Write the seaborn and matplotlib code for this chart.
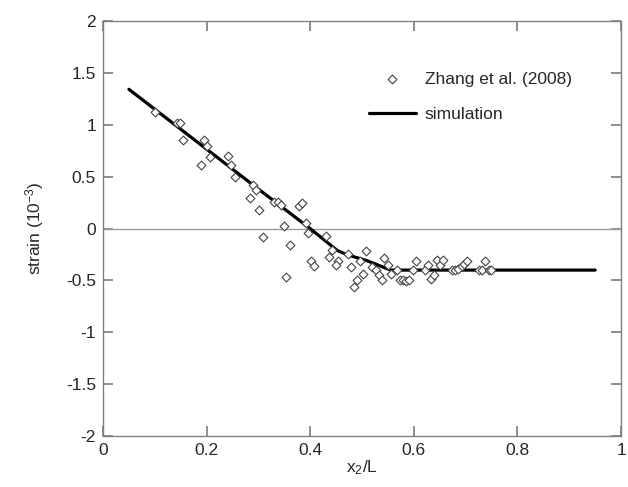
import numpy as np
import pandas as pd
import matplotlib
matplotlib.use("Agg")
import matplotlib.pyplot as plt
import seaborn as sns

# measured points (Zhang et al. 2008)
obs_x = [0.101, 0.142, 0.148, 0.154, 0.190, 0.195, 0.201, 0.207, 0.242, 0.248,
         0.255, 0.289, 0.296, 0.284, 0.301, 0.308, 0.331, 0.338, 0.344, 0.349,
         0.361, 0.354, 0.378, 0.385, 0.391, 0.396, 0.402, 0.408, 0.431, 0.442,
         0.436, 0.454, 0.449, 0.472, 0.478, 0.485, 0.491, 0.496, 0.502, 0.508,
         0.520, 0.526, 0.532, 0.538, 0.543, 0.550, 0.556, 0.567, 0.573, 0.579,
         0.584, 0.591, 0.598, 0.604, 0.621, 0.627, 0.633, 0.639, 0.645, 0.650,
         0.656, 0.673, 0.680, 0.686, 0.692, 0.697, 0.703, 0.726, 0.732, 0.738,
         0.745, 0.749]
obs_y = [1.129, 1.016, 1.016, 0.858, 0.619, 0.852, 0.797, 0.694, 0.700, 0.613,
         0.500, 0.423, 0.371, 0.294, 0.177, -0.084, 0.261, 0.261, 0.229, 0.029,
         -0.155, -0.471, 0.216, 0.248, 0.058, -0.042, -0.316, -0.365, -0.074, -0.210,
         -0.274, -0.316, -0.348, -0.242, -0.371, -0.565, -0.494, -0.316, -0.435, -0.219,
         -0.371, -0.403, -0.445, -0.494, -0.284, -0.348, -0.435, -0.403, -0.500, -0.500,
         -0.510, -0.500, -0.403, -0.316, -0.403, -0.355, -0.487, -0.445, -0.300, -0.355,
         -0.300, -0.403, -0.403, -0.390, -0.365, -0.339, -0.316, -0.403, -0.403, -0.316,
         -0.403, -0.403]

# simulation curve
sim_x = [0.05, 0.29, 0.40, 0.452, 0.47, 0.51, 0.555, 0.95]
sim_y = [1.345, 0.42, 0.0, -0.21, -0.25, -0.31, -0.40, -0.40]

sns.set_style("ticks")
plt.rcParams["font.family"] = ["Liberation Sans", "DejaVu Sans"]
plt.rcParams["mathtext.fontset"] = "custom"
plt.rcParams["mathtext.rm"] = "Liberation Sans"
plt.rcParams["mathtext.it"] = "Liberation Sans:italic"
plt.rcParams["xtick.direction"] = "in"
plt.rcParams["ytick.direction"] = "in"

fig = plt.figure(figsize=(6.28, 4.87), dpi=100)
ax = fig.add_axes([0.164, 0.105, 0.825, 0.851])

ax.axhline(0, color="#9a9a9a", lw=1.0, zorder=1)

obs = pd.DataFrame({"x": obs_x, "y": obs_y})
sim = pd.DataFrame({"x": sim_x, "y": sim_y})

sns.scatterplot(data=obs, x="x", y="y", ax=ax, marker="D", s=20,
                facecolor="white", edgecolor="#444444", linewidth=0.8,
                label="Zhang et al. (2008)", zorder=3)
sns.lineplot(data=sim, x="x", y="y", ax=ax, color="black", lw=2.3,
             label="simulation", zorder=2, sort=False)

ax.set_xlim(0, 1)
ax.set_ylim(-2, 2)
ax.set_xticks([0, 0.2, 0.4, 0.6, 0.8, 1])
ax.set_xticklabels(["0", "0.2", "0.4", "0.6", "0.8", "1"])
ax.set_yticks([-2, -1.5, -1, -0.5, 0, 0.5, 1, 1.5, 2])
ax.set_yticklabels(["-2", "-1.5", "-1", "-0.5", "0", "0.5", "1", "1.5", "2"])

for s in ax.spines.values():
    s.set_visible(True)
    s.set_color("#808080")
    s.set_linewidth(1.0)
ax.tick_params(axis="both", which="major", direction="in", length=7, width=1.1,
               color="#707070", labelsize=12.5, top=True, right=True,
               bottom=True, left=True, pad=5)

ax.set_xlabel("x$_2$/L", fontsize=12.5, labelpad=0)
ax.set_ylabel("strain (10$^{-3}$)", fontsize=12.5, labelpad=14)

ax.legend(loc="upper left", bbox_to_anchor=(0.49, 0.908), frameon=False,
          fontsize=12.5, handlelength=2.7, handletextpad=0.5,
          labelspacing=1.15, borderpad=0.2)

fig.savefig("out.png", dpi=100)
